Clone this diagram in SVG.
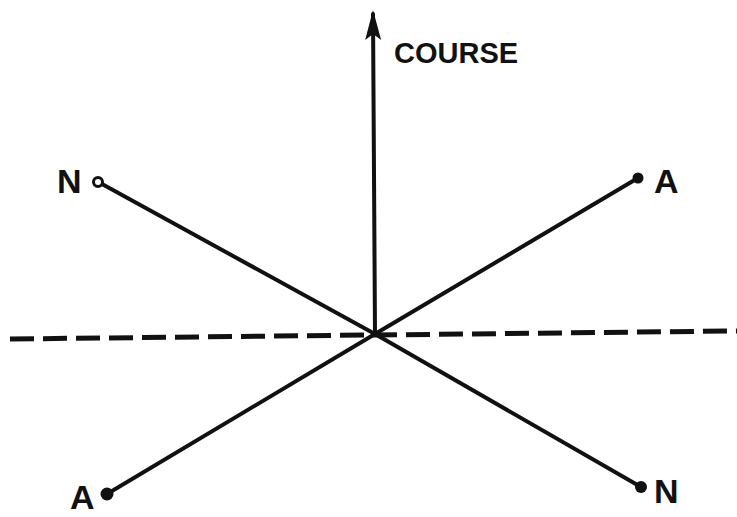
<svg xmlns="http://www.w3.org/2000/svg" width="737" height="517" viewBox="0 0 737 517">
<style>
.ln{stroke:#111;stroke-width:4;fill:none;stroke-linecap:round}
.dash{stroke:#111;stroke-width:5;fill:none;stroke-dasharray:24 9}
.lbl{font-family:"Liberation Sans",Arial,sans-serif;font-weight:bold;fill:#111}
.big{font-size:34px}
.dot{fill:#111}
</style>
<defs>
<marker id="arr" markerUnits="userSpaceOnUse" markerWidth="34" markerHeight="20" refX="30" refY="10" orient="auto" viewBox="0 0 34 20">
<path d="M34 10 L4 2 L10 10 L4 18 Z" fill="#111"/>
</marker>
</defs>
<rect width="737" height="517" fill="#fff"/>
<g id="connectors">
<line class="dash" x1="10" y1="339" x2="737" y2="331"/>
<line class="ln" x1="375" y1="334" x2="373" y2="14" marker-end="url(#arr)"/>
<line class="ln" x1="102" y1="184" x2="375" y2="334"/>
<line class="ln" x1="638" y1="178" x2="375" y2="334"/>
<line class="ln" x1="107" y1="494" x2="375" y2="334"/>
<line class="ln" x1="641" y1="487" x2="375" y2="334"/>
</g>
<g id="course">
<text class="lbl" x="394" y="63" font-size="29">COURSE</text>
</g>
<g id="n-top-left">
<circle cx="98" cy="182" r="4.5" fill="#fff" stroke="#111" stroke-width="3"/>
<text class="lbl big" x="57" y="193">N</text>
</g>
<g id="a-top-right">
<circle class="dot" cx="638" cy="178" r="5.5"/>
<text class="lbl big" x="654" y="193">A</text>
</g>
<g id="a-bottom-left">
<circle class="dot" cx="107" cy="494" r="6.5"/>
<text class="lbl big" x="70" y="509">A</text>
</g>
<g id="n-bottom-right">
<circle class="dot" cx="641" cy="487" r="6"/>
<text class="lbl big" x="654" y="503">N</text>
</g>
</svg>
